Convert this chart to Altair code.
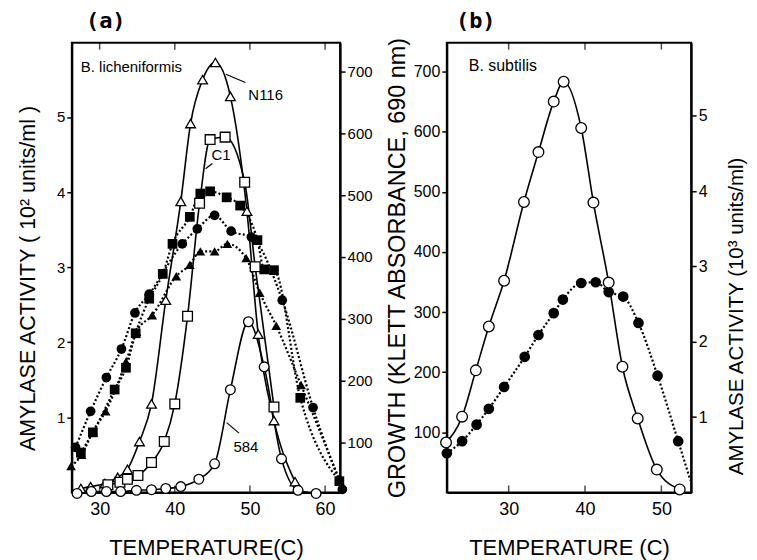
import altair as alt
import pandas as pd

# ---------------- Panel (a): B. licheniformis ----------------
# Growth (Klett units, right axis) - open symbols, solid lines
n116_T = [27.5, 28.8, 30.7, 32.4, 33.7, 35.3, 36.9, 38.8, 40.8, 42.1, 43.7, 45.4, 47.4, 49.6, 51.1, 53.2, 56.0]
n116_K = [25, 28, 33, 43, 56, 101, 162, 330, 490, 616, 687, 715, 660, 474, 275, 135, 36]
c1_T = [31.1, 32.7, 33.7, 35.1, 36.9, 38.6, 40.0, 41.7, 43.3, 44.7, 46.7, 49.3, 50.7, 53.2]
c1_K = [31, 35, 40, 46, 67, 101, 162, 304, 487, 590, 594, 521, 384, 157]
s584_T = [27.0, 28.9, 30.9, 32.8, 34.9, 36.9, 38.8, 40.8, 43.2, 45.3, 47.4, 49.8, 51.9, 54.2, 56.4, 58.8]
s584_K = [17, 20, 20, 20, 22, 23, 25, 28, 40, 65, 185, 295, 222, 73, 22, 17]

# Amylase (10^2 units/ml, left axis) - closed symbols, dotted lines
amy_tri_T = [26.2, 27.6, 29.1, 30.8, 33.5, 34.9, 37.0, 40.2, 42.0, 43.4, 45.3, 47.0, 49.5, 51.3, 53.5, 56.8, 61.9]
amy_tri_A = [0.35, 0.50, 0.81, 1.08, 1.74, 2.14, 2.36, 2.88, 3.03, 3.21, 3.21, 3.31, 3.12, 2.66, 2.22, 1.43, 0.17]
amy_sq_T = [27.5, 29.1, 32.0, 33.5, 34.8, 36.6, 38.4, 39.7, 42.0, 43.4, 44.7, 46.9, 48.7, 51.0, 51.9, 53.2, 56.7, 61.9]
amy_sq_A = [0.53, 0.80, 1.37, 1.66, 2.12, 2.58, 2.91, 3.31, 3.67, 3.98, 4.01, 3.93, 3.82, 3.36, 2.97, 2.96, 1.26, 0.15]
amy_ci_T = [26.8, 28.8, 30.9, 32.9, 34.7, 36.6, 41.0, 43.0, 45.3, 47.5, 50.2, 54.3, 58.4, 62.3]
amy_ci_A = [0.60, 1.08, 1.53, 1.91, 2.39, 2.64, 3.31, 3.51, 3.69, 3.48, 3.40, 2.56, 1.13, 0.04]

# ---------------- Panel (b): B. subtilis ----------------
sub_T = [21.8, 23.9, 25.7, 27.4, 29.4, 32.0, 33.9, 35.9, 37.2, 39.5, 41.1, 43.1, 44.9, 46.9, 49.4, 52.4]
sub_K = [83, 126, 203, 276, 352, 483, 566, 650, 683, 606, 482, 349, 209, 123, 38, 5]
sub_amy_T = [21.9, 23.9, 25.8, 27.4, 29.4, 32.1, 33.9, 35.9, 37.1, 39.5, 41.4, 43.1, 45.0, 47.0, 49.5, 52.2]
sub_amy_A = [0.52, 0.68, 0.90, 1.11, 1.40, 1.80, 2.09, 2.38, 2.56, 2.78, 2.79, 2.66, 2.60, 2.25, 1.55, 0.68]
sub_amy_tail_T = [53.8]
sub_amy_tail_A = [0.16]

ticks_a = [30, 40, 50, 60]
ticks_b = [30, 40, 50]
ticks_amy = [1, 2, 3, 4, 5]
ticks_klett = [100, 200, 300, 400, 500, 600, 700]

FONT = "Liberation Sans"
W_A, W_B, H = 269, 245, 451


def frame(T, V, name, vcol):
    return pd.DataFrame({"T": T, vcol: V, "s": [name] * len(T)})


growth_a = pd.concat([frame(n116_T, n116_K, "N116", "K"),
                      frame(c1_T, c1_K, "C1", "K"),
                      frame(s584_T, s584_K, "584", "K")])
amy_a = pd.concat([frame(amy_tri_T, amy_tri_A, "N116 amylase", "A"),
                   frame(amy_sq_T, amy_sq_A, "C1 amylase", "A"),
                   frame(amy_ci_T, amy_ci_A, "584 amylase", "A")])
growth_b = frame(sub_T, sub_K, "subtilis", "K")
amy_b_pts = frame(sub_amy_T, sub_amy_A, "subtilis amylase", "A")
amy_b_line = frame(sub_amy_T + sub_amy_tail_T, sub_amy_A + sub_amy_tail_A, "subtilis amylase", "A")

shape_scale = alt.Scale(
    domain=["N116", "C1", "584", "N116 amylase", "C1 amylase", "584 amylase", "subtilis", "subtilis amylase"],
    range=["triangle-up", "square", "circle", "triangle-up", "square", "circle", "circle", "circle"])

# ---------- panel (a) ----------
xs_a = alt.Scale(domain=[26.3, 62.0], nice=False, zero=False)
ya_a = alt.Scale(domain=[0, 5.99], nice=False)
yk_a = alt.Scale(domain=[18.6, 747], nice=False, zero=False)

xax_a = alt.Axis(values=ticks_a, ticks=False, title="TEMPERATURE(C)", labelFontSize=18,
                 labelPadding=8, titlePadding=19, titleFontSize=22)
yax_amy_a = alt.Axis(values=ticks_amy, orient="left", title="AMYLASE  ACTIVITY  ( 10² units/ml )",
                     labelFontSize=15, titleFontSize=21.5, titlePadding=17, titleY=236)
yax_k_a = alt.Axis(values=ticks_klett, orient="right", title=None, labelFontSize=15)

X_a = alt.X("T:Q", scale=xs_a, axis=xax_a)
YA_a = alt.Y("A:Q", scale=ya_a, axis=yax_amy_a)
YK_a = alt.Y("K:Q", scale=yk_a, axis=yax_k_a)

amy_lines_a = alt.Chart(amy_a).mark_line(
    interpolate="monotone", color="black", strokeWidth=2.2, strokeDash=[2, 2.2]
).encode(x=X_a, y=YA_a, detail="s:N")
amy_pts_a = alt.Chart(amy_a).mark_point(
    filled=True, color="black", size=95, opacity=1
).encode(x=X_a, y=YA_a, shape=alt.Shape("s:N", scale=shape_scale, legend=None))

tick_df_a = pd.DataFrame({"T": ticks_a})
top_ticks_a = alt.Chart(tick_df_a).mark_tick(color="black", thickness=1.5, size=7).encode(
    x=X_a, y=alt.value(3.5))
bot_ticks_a = alt.Chart(tick_df_a).mark_tick(color="black", thickness=1.5, size=7).encode(
    x=X_a, y=alt.value(H - 3.5))

leader_df = pd.DataFrame({
    "T": [49.4, 46.8, 45.0, 44.1, 48.55, 46.9],
    "A": [5.46, 5.57, 4.38, 4.31, 0.79, 0.93],
    "g": ["N116", "N116", "C1", "C1", "584", "584"]})
leaders = alt.Chart(leader_df).mark_line(color="black", strokeWidth=1.2).encode(
    x=X_a, y=YA_a, detail="g:N")

lab_a = pd.DataFrame({"txt": ["B. licheniformis", "N116", "C1", "584"],
                      "px": [9, 177, 140, 162], "py": [24, 53, 113, 405]})
labels_a = alt.Chart(lab_a).mark_text(align="left", baseline="middle", fontSize=15,
                                      font=FONT, color="black").encode(
    x=alt.X("px:Q", scale=None), y=alt.Y("py:Q", scale=None), text="txt:N")
tag_a = alt.Chart(pd.DataFrame({"t": ["(a)"]})).mark_text(
    font="DejaVu Sans Mono", fontWeight="bold", fontSize=22, color="black",
    align="center", baseline="middle").encode(x=alt.value(34), y=alt.value(-22), text="t:N")

growth_lines_a = alt.Chart(growth_a).mark_line(
    interpolate="monotone", color="black", strokeWidth=1.6
).encode(x=X_a, y=YK_a, detail="s:N")
growth_pts_a = alt.Chart(growth_a).mark_point(
    filled=True, fill="white", stroke="black", strokeWidth=1.3, size=95, opacity=1
).encode(x=X_a, y=YK_a, shape=alt.Shape("s:N", scale=shape_scale, legend=None))

amy_group_a = alt.layer(amy_lines_a, amy_pts_a, top_ticks_a, bot_ticks_a, leaders, labels_a, tag_a)
growth_group_a = alt.layer(growth_lines_a, growth_pts_a)
panel_a = alt.layer(amy_group_a, growth_group_a).resolve_scale(y="independent").properties(
    width=W_A, height=H)

# ---------- panel (b) ----------
xs_b = alt.Scale(domain=[21.9, 53.9], nice=False, zero=False)
yk_b = alt.Scale(domain=[0, 748], nice=False)
ya_b = alt.Scale(domain=[0, 5.97], nice=False)

xax_b = alt.Axis(values=ticks_b, ticks=False, title="TEMPERATURE (C)", labelFontSize=18,
                 labelPadding=8, titlePadding=19, titleFontSize=22)
yax_k_b = alt.Axis(values=ticks_klett, orient="left", title="GROWTH (KLETT ABSORBANCE, 690 nm)",
                   labelFontSize=16, titleFontSize=23.5, titlePadding=4)
yax_amy_b = alt.Axis(values=ticks_amy, orient="right", title="AMYLASE  ACTIVITY  (10³ units/ml)",
                     labelFontSize=16, titleFontSize=20.5, titlePadding=20, titleY=274,
                     titleAngle=270, titleBaseline="top")

X_b = alt.X("T:Q", scale=xs_b, axis=xax_b)
YK_b = alt.Y("K:Q", scale=yk_b, axis=yax_k_b)
YA_b = alt.Y("A:Q", scale=ya_b, axis=yax_amy_b)

growth_line_b = alt.Chart(growth_b).mark_line(
    interpolate="monotone", color="black", strokeWidth=1.6).encode(x=X_b, y=YK_b)
growth_pts_b = alt.Chart(growth_b).mark_point(
    filled=True, fill="white", stroke="black", strokeWidth=1.3, size=115, opacity=1
).encode(x=X_b, y=alt.Y("K:Q", scale=yk_b, axis=None),
         shape=alt.Shape("s:N", scale=shape_scale, legend=None))

tick_df_b = pd.DataFrame({"T": ticks_b})
top_ticks_b = alt.Chart(tick_df_b).mark_tick(color="black", thickness=1.5, size=7).encode(
    x=X_b, y=alt.value(3.5))
bot_ticks_b = alt.Chart(tick_df_b).mark_tick(color="black", thickness=1.5, size=7).encode(
    x=X_b, y=alt.value(H - 3.5))
lab_b = alt.Chart(pd.DataFrame({"t": ["B. subtilis"]})).mark_text(
    align="left", baseline="middle", fontSize=16, font=FONT, color="black").encode(
    x=alt.value(22), y=alt.value(23), text="t:N")
tag_b = alt.Chart(pd.DataFrame({"t": ["(b)"]})).mark_text(
    font="DejaVu Sans Mono", fontWeight="bold", fontSize=22, color="black",
    align="center", baseline="middle").encode(x=alt.value(29), y=alt.value(-22), text="t:N")

amy_line_b = alt.Chart(amy_b_line).mark_line(
    interpolate="monotone", color="black", strokeWidth=2.2, strokeDash=[2, 2.2]).encode(x=X_b, y=YA_b)
amy_pts_b = alt.Chart(amy_b_pts).mark_point(
    filled=True, color="black", size=115, opacity=1
).encode(x=X_b, y=YA_b, shape=alt.Shape("s:N", scale=shape_scale, legend=None))

growth_group_b = alt.layer(growth_line_b, top_ticks_b, bot_ticks_b, lab_b, tag_b)
amy_group_b = alt.layer(amy_line_b, amy_pts_b)
panel_b = alt.layer(growth_group_b, amy_group_b, growth_pts_b).resolve_scale(
    y="independent").properties(width=W_B, height=H)

chart = alt.hconcat(panel_a, panel_b, spacing=10).resolve_scale(
    x="independent", y="independent"
).properties(
    padding={"left": 8, "top": 0, "right": 0, "bottom": 0}
).configure_view(
    stroke="black", strokeWidth=2
).configure_axis(
    grid=False, domainColor="black", domainWidth=2, tickColor="black", tickWidth=1.5, tickSize=5,
    labelColor="black", titleColor="black", labelFont=FONT, titleFont=FONT,
    titleFontWeight="normal", labelFontWeight="normal"
)

chart.save("out.html", embed_options={"renderer": "svg", "actions": False})
